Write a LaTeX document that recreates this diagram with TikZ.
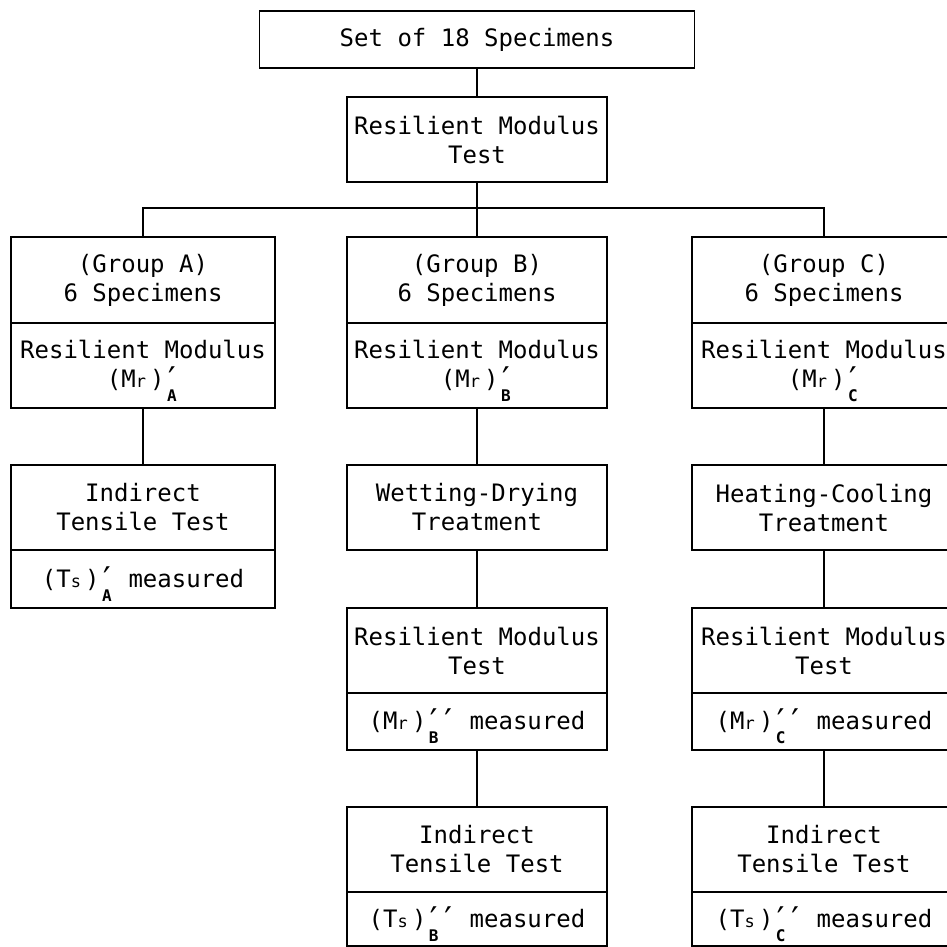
\documentclass[tikz,border=0pt]{standalone}
\usepackage{fontspec}
\setmainfont{DejaVu Sans Mono}
\newcommand{\smc}[1]{\makebox[0.6em][l]{\fontsize{17}{17}\selectfont #1}}
\newcommand{\prm}{\makebox[0.6em][c]{\raisebox{-4pt}{\fontsize{34}{34}\selectfont ′}}}
\newcommand{\prs}[1]{\prm\llap{\makebox[0.6em][c]{\smash{\raisebox{-14pt}{\fontsize{16}{16}\selectfont\bfseries #1}}}}}
\begin{document}
\begin{tikzpicture}[x=1pt,y=-1pt,
  cell/.style={draw, line width=1.6pt, inner sep=0pt, align=center, font=\fontsize{24}{29}\selectfont},
  conn/.style={line width=1.8pt}]
\clip (0,0) rectangle (947,947);
% top
\node[cell, minimum width=435pt, minimum height=57pt] (top) at (477,39.5) {Set of 18 Specimens};
\node[cell, minimum width=260pt, minimum height=85pt] (rmt) at (477,139.5) {Resilient Modulus\\Test};
% group A
\node[cell, minimum width=264pt, minimum height=86pt] (ga) at (143,280) {(Group A)\\6 Specimens};
\node[cell, minimum width=264pt, minimum height=85pt] (gal) at (143,365.5) {Resilient Modulus\\(M\smc{r})\prs{A}};
\node[cell, minimum width=264pt, minimum height=85pt] (ia) at (143,507.5) {Indirect\\Tensile Test};
\node[cell, minimum width=264pt, minimum height=58pt] (ial) at (143,579) {(T\smc{s})\prs{A} measured};
% group B
\node[cell, minimum width=260pt, minimum height=86pt] (gb) at (477,280) {(Group B)\\6 Specimens};
\node[cell, minimum width=260pt, minimum height=85pt] (gbl) at (477,365.5) {Resilient Modulus\\(M\smc{r})\prs{B}};
\node[cell, minimum width=260pt, minimum height=85pt] (wd) at (477,507.5) {Wetting-Drying\\Treatment};
\node[cell, minimum width=260pt, minimum height=85pt] (rb) at (477,650.5) {Resilient Modulus\\Test};
\node[cell, minimum width=260pt, minimum height=57pt] (rbl) at (477,721.5) {(M\smc{r})\prs{B}\prm{} measured};
\node[cell, minimum width=260pt, minimum height=85pt] (ib) at (477,849.5) {Indirect\\Tensile Test};
\node[cell, minimum width=260pt, minimum height=54pt] (ibl) at (477,919) {(T\smc{s})\prs{B}\prm{} measured};
% group C
\node[cell, minimum width=264pt, minimum height=86pt] (gc) at (824,280) {(Group C)\\6 Specimens};
\node[cell, minimum width=264pt, minimum height=85pt] (gcl) at (824,365.5) {Resilient Modulus\\(M\smc{r})\prs{C}};
\node[cell, minimum width=264pt, minimum height=85pt] (hc) at (824,507.5) {Heating-Cooling\\Treatment};
\node[cell, minimum width=264pt, minimum height=85pt] (rc) at (824,650.5) {Resilient Modulus\\Test};
\node[cell, minimum width=264pt, minimum height=57pt] (rcl) at (824,721.5) {(M\smc{r})\prs{C}\prm{} measured};
\node[cell, minimum width=264pt, minimum height=85pt] (ic) at (824,849.5) {Indirect\\Tensile Test};
\node[cell, minimum width=264pt, minimum height=54pt] (icl) at (824,919) {(T\smc{s})\prs{C}\prm{} measured};
% connectors
\draw[conn] (top.south) -- (rmt.north);
\draw[conn] (rmt.south) -- (gb.north);
\draw[conn] (ga.north) -- ++(0,-28) -| (gc.north);
\draw[conn] (gal.south) -- (ia.north);
\draw[conn] (gbl.south) -- (wd.north);
\draw[conn] (wd.south) -- (rb.north);
\draw[conn] (rbl.south) -- (ib.north);
\draw[conn] (gcl.south) -- (hc.north);
\draw[conn] (hc.south) -- (rc.north);
\draw[conn] (rcl.south) -- (ic.north);
\end{tikzpicture}
\end{document}
